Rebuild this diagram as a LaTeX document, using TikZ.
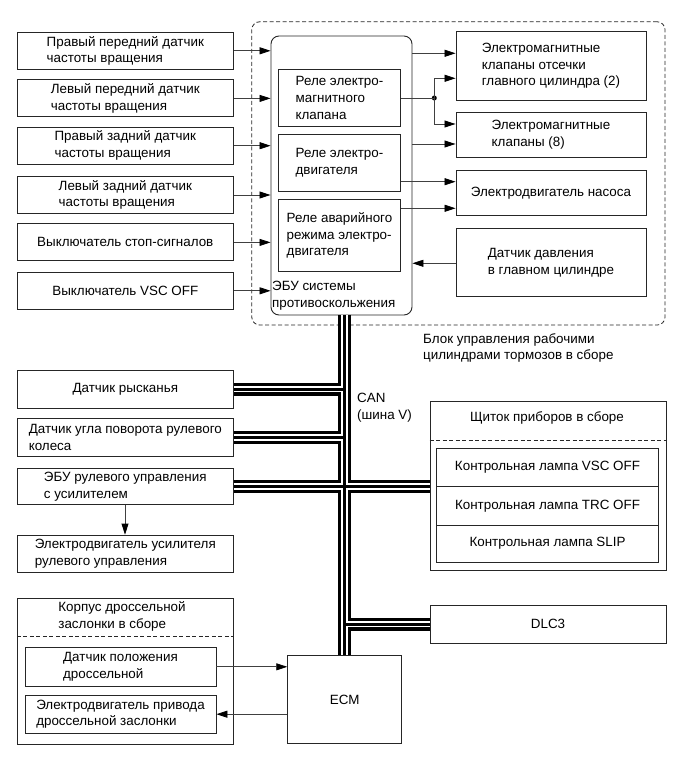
\documentclass[tikz,border=0pt]{standalone}
\usepackage{fontspec}
\setmainfont{Liberation Sans}
\usetikzlibrary{arrows.meta}
\newcommand\lbl{\fontsize{13.4}{16.6}\selectfont}
\tikzset{
  box/.style={draw=black!85, line width=0.9pt, inner sep=0pt, align=left, font=\lbl},
  txt/.style={inner sep=0pt, align=left, font=\lbl},
  arr/.style={draw=black!75, line width=0.8pt, -{Triangle[length=11pt,width=7pt,color=black]}},
  sepline/.style={draw=black!85, line width=0.8pt, dash pattern=on 4pt off 2.5pt},
}
\begin{document}
\begin{tikzpicture}[x=1pt, y=-1pt]
      \useasboundingbox (0,0) rectangle (686,759);
      % brake actuator block
      \node[sepline, rounded corners=8pt, minimum width=413.3pt, minimum height=303.3pt] (absblk) at (458.4,173.4) {};
      \node[box, rounded corners=8pt, minimum width=141pt, minimum height=279pt] (ecu) at (341.5,175.5) {};
      \node[txt, anchor=south west] (ecutxt) at (272,310) {ЭБУ системы\\противоскольжения};
      \node[box, minimum width=122.4pt, minimum height=57.4pt] (rel1) at (339.5,98) {Реле электро-\\магнитного\\клапана};
      \node[box, minimum width=122.4pt, minimum height=57.7pt] (rel2) at (339.5,162.9) {Реле электро-\\двигателя};
      \node[box, minimum width=122.4pt, minimum height=72.4pt] (rel3) at (339.5,235.5) {Реле аварийного\\режима электро-\\двигателя};
      \node[box, minimum width=190pt, minimum height=68.3pt] (cutv) at (551,65.9) {Электромагнитные\\клапаны отсечки\\главного цилиндра (2)};
      \node[box, minimum width=190pt, minimum height=44.6pt] (solv) at (551,135) {Электромагнитные\\клапаны (8)};
      \node[box, minimum width=190pt, minimum height=44.3pt] (pump) at (551,192.9) {Электродвигатель насоса};
      \node[box, minimum width=190pt, minimum height=68.4pt] (mcps) at (551,262.5) {Датчик давления\\в главном цилиндре};
      \node[txt, anchor=north west] (abstxt) at (423,333) {Блок управления рабочими\\цилиндрами тормозов в сборе};
      % inputs of the ECU
      \foreach \n/\y/\t in {wfr/50.8/{Правый передний датчик\\частоты вращения},
                            wfl/98.4/{Левый передний датчик\\частоты вращения},
                            wrr/145.7/{Правый задний датчик\\частоты вращения},
                            wrl/195/{Левый задний датчик\\частоты вращения},
                            stp/242.4/{Выключатель стоп-сигналов},
                            vsc/290.8/{Выключатель VSC OFF}}{
        \node[box, minimum width=216pt, minimum height=37pt] (\n) at (125.3,\y) {\t};
        \draw[arr] (\n.east) -- (\n.east -| ecu.west);
      }
      % outputs of the ECU
      \node[circle, fill=black, inner sep=0pt, minimum size=5pt] (jn) at (434.3,98) {};
      \draw[arr] (ecu.east |- 0,53.3) -- (cutv.west |- 0,53.3);
      \draw[draw=black!75, line width=0.8pt] (rel1.east |- jn) -- (jn.center);
      \draw[arr] (jn.center) |- (cutv.west |- 0,78.3);
      \draw[arr] (jn.center) |- (solv.west |- 0,124);
      \draw[arr] (ecu.east |- 0,144) -- (solv.west |- 0,144);
      \draw[arr] (rel2.east |- 0,181.7) -- (pump.west |- 0,181.7);
      \draw[arr] (rel3.east |- 0,208.3) -- (pump.west |- 0,208.3);
      \draw[arr] (mcps.west |- 0,263.3) -- (ecu.east |- 0,263.3);
      % CAN side
      \node[box, minimum width=216pt, minimum height=38.3pt] (yaw) at (125.3,389.2) {Датчик рысканья};
      \node[box, minimum width=216pt, minimum height=38.4pt] (sas) at (125.3,437.5) {Датчик угла поворота рулевого\\колеса};
      \node[box, minimum width=216pt, minimum height=35.7pt] (eps) at (125.3,486.7) {ЭБУ рулевого управления\\с усилителем};
      \node[box, minimum width=216pt, minimum height=37.7pt] (epsm) at (125.3,553.9) {Электродвигатель усилителя\\рулевого управления};
      \draw[arr] (eps.south -| 125,0) -- (epsm.north -| 125,0);
      \node[box, minimum width=236pt, minimum height=169pt] (comb) at (548,486.2) {};
      \node[txt] (combtxt) at (547,418.3) {Щиток приборов в сборе};
      \draw[sepline] (comb.west |- 0,440) -- (comb.east |- 0,440);
      \node[box, minimum width=221.6pt, minimum height=38.4pt] (lvsc) at (547.5,467.5) {Контрольная лампа VSC OFF};
      \node[box, minimum width=221.6pt, minimum height=38.3pt] (ltrc) at (547.5,505.9) {Контрольная лампа TRC OFF};
      \node[box, minimum width=221.6pt, minimum height=37.3pt] (lslp) at (547.5,543.7) {Контрольная лампа SLIP};
      \node[box, minimum width=236pt, minimum height=38.3pt] (dlc) at (548,624.2) {DLC3};
      \node[box, minimum width=216pt, minimum height=145.7pt] (thr) at (125.3,671.2) {};
      \node[txt] (thrtxt) at (122,616.5) {Корпус дроссельной\\заслонки в сборе};
      \draw[sepline] (thr.west |- 0,636.7) -- (thr.east |- 0,636.7);
      \node[box, minimum width=191pt, minimum height=38.3pt] (tps) at (120.5,666.8) {Датчик положения\\дроссельной};
      \node[box, minimum width=191pt, minimum height=38.3pt] (tcm) at (120.5,714.2) {Электродвигатель привода\\дроссельной заслонки};
      \node[box, minimum width=114pt, minimum height=87.6pt] (ecm) at (344.7,699.5) {ECM};
      \draw[arr] (tps.east) -- (tps.east -| ecm.west);
      \draw[arr] (tcm.east -| ecm.west) -- (tcm.east);
      \node[txt, anchor=north west] (cantxt) at (357,393) {CAN\\(шина V)};
      % CAN bus
      \foreach \w/\c in {13pt/black, 6.5pt/white, 3pt/black}{
        \draw[line width=\w, color=\c] (ecm.north |- ecu.south) -- (ecm.north);
        \draw[line width=\w, color=\c] (yaw.east) -- (yaw.east -| ecm.north);
        \draw[line width=\w, color=\c] (sas.east) -- (sas.east -| ecm.north);
        \draw[line width=\w, color=\c] (eps.east) -- (eps.east -| comb.west);
        \draw[line width=\w, color=\c] (dlc.west) -- (dlc.west -| ecm.north);
      }
\end{tikzpicture}
\end{document}
